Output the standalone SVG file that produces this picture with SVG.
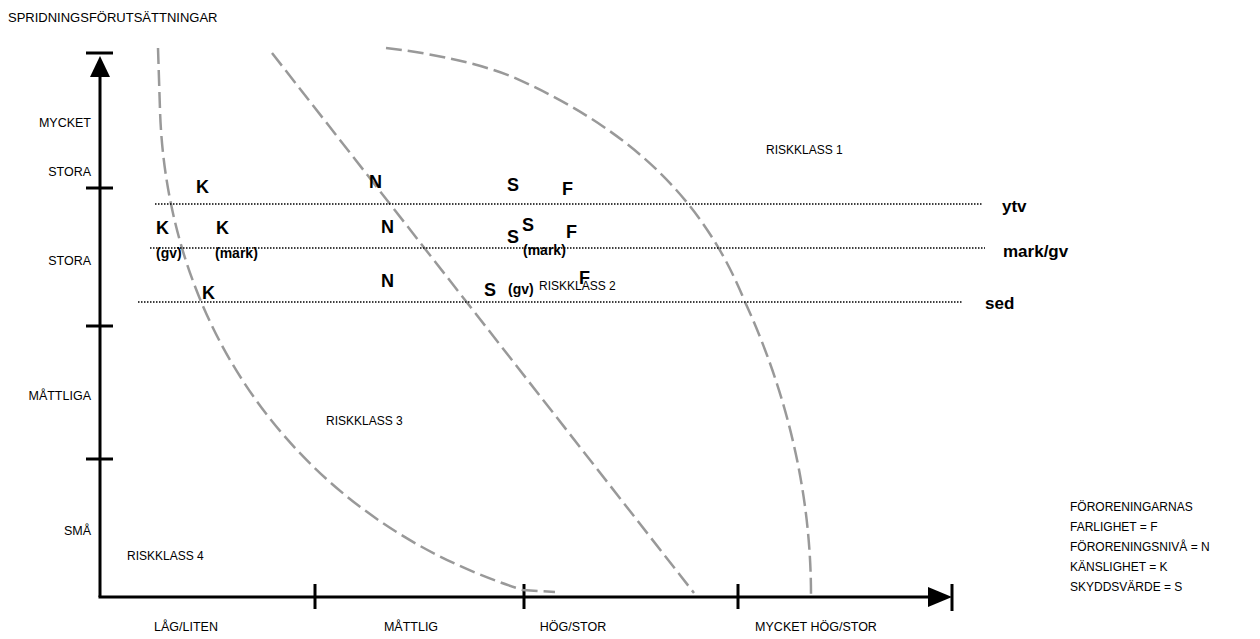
<svg xmlns="http://www.w3.org/2000/svg" width="1260" height="639" viewBox="0 0 1260 639">
<style>
.lbl{font-family:"Liberation Sans",Arial,sans-serif;font-size:12.5px;fill:#000}
.leg{font-family:"Liberation Sans",Arial,sans-serif;font-size:12px;fill:#000}
.rk{font-family:"Liberation Sans",Arial,sans-serif;font-size:12px;fill:#000}
.big{font-family:"Liberation Sans",Arial,sans-serif;font-size:18px;font-weight:bold;fill:#000}
.sub{font-family:"Liberation Sans",Arial,sans-serif;font-size:14px;font-weight:bold;fill:#000}
.ax{stroke:#000;stroke-width:3;fill:none}
.dot{stroke:#000;stroke-width:1.5;stroke-dasharray:1.5 1.5;fill:none}
.curve{stroke:#999;stroke-width:2.5;stroke-dasharray:16 6;fill:none}
</style>
<rect width="1260" height="639" fill="#fff"/>
<g id="axes">
<line class="ax" x1="100" y1="70" x2="100" y2="597"/>
<line class="ax" x1="86" y1="53" x2="113" y2="53"/>
<polygon points="100,56 90,77 110,77" fill="#000"/>
<line class="ax" x1="86" y1="188" x2="113" y2="188"/>
<line class="ax" x1="86" y1="326" x2="113" y2="326"/>
<line class="ax" x1="86" y1="459" x2="113" y2="459"/>
<line class="ax" x1="98.5" y1="597" x2="935" y2="597"/>
<polygon points="952,597 928,587 928,607" fill="#000"/>
<line class="ax" x1="952" y1="584" x2="952" y2="611"/>
<line class="ax" x1="315" y1="584" x2="315" y2="609"/>
<line class="ax" x1="524" y1="584" x2="524" y2="609"/>
<line class="ax" x1="738" y1="584" x2="738" y2="609"/>
</g>
<g id="connectors">
<path class="curve" d="M158,48 L160,110 C167,330 300,520 523,590 L555,592"/>
<path class="curve" d="M272,53 L694,593"/>
<path class="curve" d="M386,48 C420,52 470,60 513,77 C620,125 700,190 745,302 C790,400 811,500 811,595"/>
<line class="dot" x1="155" y1="204" x2="983" y2="204"/>
<line class="dot" x1="150" y1="248" x2="985" y2="248"/>
<line class="dot" x1="138" y1="302" x2="962" y2="302"/>
</g>
<g id="title"><text class="lbl" x="8" y="22" style="font-size:13px">SPRIDNINGSFÖRUTSÄTTNINGAR</text></g>
<g id="y-labels" text-anchor="end">
<text class="lbl" x="91" y="127">MYCKET</text>
<text class="lbl" x="91" y="176">STORA</text>
<text class="lbl" x="91" y="265">STORA</text>
<text class="lbl" x="91" y="400">MÅTTLIGA</text>
<text class="lbl" x="91" y="535">SMÅ</text>
</g>
<g id="x-labels" text-anchor="middle">
<text class="lbl" x="186" y="631">LÅG/LITEN</text>
<text class="lbl" x="411" y="631">MÅTTLIG</text>
<text class="lbl" x="573" y="631">HÖG/STOR</text>
<text class="lbl" x="816" y="631">MYCKET HÖG/STOR</text>
</g>
<g id="riskklass">
<text class="rk" x="766" y="154">RISKKLASS 1</text>
<text class="rk" x="539" y="290">RISKKLASS 2</text>
<text class="rk" x="326" y="425">RISKKLASS 3</text>
<text class="rk" x="127" y="560">RISKKLASS 4</text>
</g>
<g id="medium-labels">
<text class="big" x="1002" y="212" style="font-size:17px">ytv</text>
<text class="big" x="1003" y="257" style="font-size:17px">mark/gv</text>
<text class="big" x="985" y="309" style="font-size:17px">sed</text>
</g>
<g id="letters">
<text class="big" x="196" y="193">K</text>
<text class="big" x="369" y="188">N</text>
<text class="big" x="507" y="191">S</text>
<text class="big" x="562" y="195">F</text>
<text class="big" x="156" y="234">K</text>
<text class="big" x="216" y="234">K</text>
<text class="big" x="381" y="233">N</text>
<text class="big" x="507" y="243">S</text>
<text class="big" x="522" y="231">S</text>
<text class="big" x="566" y="238">F</text>
<text class="sub" x="156" y="258">(gv)</text>
<text class="sub" x="215" y="258">(mark)</text>
<text class="sub" x="523" y="255">(mark)</text>
<text class="big" x="381" y="287">N</text>
<text class="big" x="484" y="296">S</text>
<text class="sub" x="508" y="294">(gv)</text>
<text class="big" x="579" y="284">F</text>
<text class="big" x="202" y="299">K</text>
</g>
<g id="legend">
<text class="leg" x="1070" y="511">FÖRORENINGARNAS</text>
<text class="leg" x="1070" y="531">FARLIGHET = F</text>
<text class="leg" x="1070" y="551">FÖRORENINGSNIVÅ = N</text>
<text class="leg" x="1070" y="571">KÄNSLIGHET = K</text>
<text class="leg" x="1070" y="591">SKYDDSVÄRDE = S</text>
</g>
</svg>
